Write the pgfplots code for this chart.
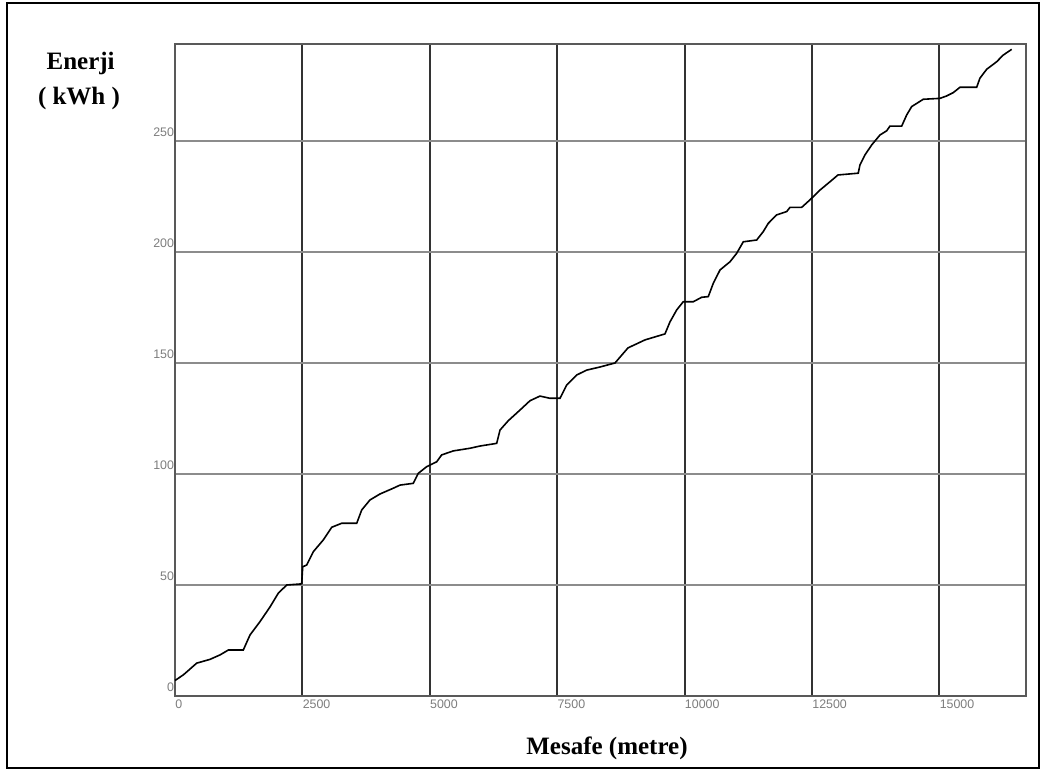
\documentclass[border=0pt]{standalone}
\usepackage{pgfplots}
\pgfplotsset{compat=1.18}
\usepackage{fontspec}
\setmainfont{Liberation Serif}
\newfontfamily\tickfont{Liberation Sans}
\definecolor{tickgray}{RGB}{125,125,125}
\begin{document}
\begin{tikzpicture}
\useasboundingbox (0,0) rectangle (522.5pt,385.5pt);
\draw[line width=1pt] (3.5pt,1.5pt) rectangle (519.5pt,384pt);
\begin{axis}[
  at={(87.5pt,37.5pt)}, anchor=south west,
  scale only axis, width=425.5pt, height=326pt,
  xmin=0, xmax=16700, ymin=0, ymax=293.7,
  xtick={0,2500,5000,7500,10000,12500,15000},
  ytick={0,50,100,150,200,250},
  major tick length=0pt,
  grid=major,
  x grid style={black!80, line width=1pt},
  y grid style={black!45, line width=1pt},
  axis line style={black!65, line width=1pt},
  /pgf/number format/assume math mode=true,
  scaled ticks=false,
  xticklabel={\pgfmathprintnumber[1000 sep={}]{\tick}},
  yticklabel={\pgfmathprintnumber[1000 sep={}]{\tick}},
  ticklabel style={font=\tickfont\fontsize{6.2}{7}\selectfont, text=tickgray, inner sep=0pt},
  xticklabel style={anchor=north west, yshift=-1.5pt},
  yticklabel style={anchor=south east, yshift=1.8pt, xshift=-0.3pt},
  clip=false,
]
\addplot[black, line width=0.8pt] coordinates {
(0,7) (33,7.5) (163,9.5) (426,14.8) (687,16.5) (883,18.5) (1046,20.7) (1340,20.7)
(1472,27.5) (1668,33.5) (1864,40.1) (2027,46.3) (2192,50.0) (2486,50.5)
(2506,58.2) (2584,59.0) (2714,65.0) (2910,70.3) (3075,76.0) (3271,77.8) (3566,77.8)
(3664,83.8) (3826,88.3) (4023,91.0) (4284,93.6) (4415,95.0) (4676,95.8)
(4774,100.3) (4939,103.3) (5135,105.5) (5233,108.6) (5461,110.4) (5789,111.6)
(5985,112.6) (6313,113.8) (6378,119.8) (6540,124.0) (6770,128.8) (6966,133.0)
(7162,135.1) (7359,134.1) (7555,134.1) (7686,140.1) (7883,144.6) (8079,146.8)
(8340,148.2) (8634,150.0) (8889,156.8) (9223,160.4) (9615,163.1) (9713,168.5)
(9845,173.9) (9974,177.6) (10171,177.6) (10335,179.6) (10465,179.9) (10563,185.9)
(10695,191.9) (10891,195.6) (11022,199.4) (11152,204.6) (11415,205.4) (11544,209.2)
(11642,212.9) (11807,216.7) (12003,218.2) (12068,220.1) (12298,220.1) (12461,223.5)
(12657,227.9) (12893,232.4) (13010,234.7) (13408,235.5) (13441,239.2) (13539,243.7)
(13671,248.2) (13834,252.7) (13966,254.6) (14030,256.7) (14260,256.7) (14358,261.7)
(14456,265.5) (14684,268.8) (15011,269.2) (15143,270.3) (15273,271.8) (15404,274.2)
(15732,274.2) (15796,278.3) (15928,282.3) (16124,285.7) (16253,288.7) (16419,291.3)
};
\end{axis}
\node[anchor=base, font=\fontsize{12.5}{14}\selectfont\bfseries] at (40.3pt,350.5pt) {Enerji};
\node[anchor=base, font=\fontsize{12.5}{14}\selectfont\bfseries] at (39.5pt,333pt) {( kWh )};
\node[anchor=base, font=\fontsize{12.5}{14}\selectfont\bfseries] at (303.5pt,8pt) {Mesafe (metre)};
\end{tikzpicture}
\end{document}
